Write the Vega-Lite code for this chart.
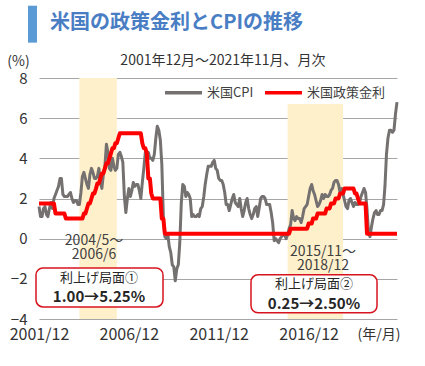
{
  "$schema": "https://vega.github.io/schema/vega-lite/v6.json",
  "width": 358,
  "height": 241,
  "autosize": "none",
  "padding": {"left": 39, "top": 78, "right": 28, "bottom": 47},
  "background": "white",
  "config": {
    "font": "Noto Sans CJK JP",
    "view": {"stroke": null},
    "text": {"font": "Noto Sans CJK JP"},
    "legend": {
      "orient": "none", "legendX": 124, "legendY": -6, "direction": "horizontal",
      "symbolType": "stroke", "symbolSize": 1369, "symbolStrokeWidth": 3.5,
      "labelFontSize": 13, "labelColor": "#404040", "labelOffset": 3,
      "columnPadding": 4, "padding": 0, "title": null
    }
  },
  "datasets": {
    "series": [
      {"d":"2001-12-01","cpi":1.6,"rate":1.75},
      {"d":"2002-01-01","cpi":1.1,"rate":1.75},{"d":"2002-02-01","cpi":1.1,"rate":1.75},{"d":"2002-03-01","cpi":1.5,"rate":1.75},{"d":"2002-04-01","cpi":1.6,"rate":1.75},{"d":"2002-05-01","cpi":1.2,"rate":1.75},{"d":"2002-06-01","cpi":1.1,"rate":1.75},{"d":"2002-07-01","cpi":1.5,"rate":1.75},{"d":"2002-08-01","cpi":1.8,"rate":1.75},{"d":"2002-09-01","cpi":1.5,"rate":1.75},{"d":"2002-10-01","cpi":2.0,"rate":1.75},{"d":"2002-11-01","cpi":2.2,"rate":1.25},{"d":"2002-12-01","cpi":2.4,"rate":1.25},
      {"d":"2003-01-01","cpi":2.6,"rate":1.25},{"d":"2003-02-01","cpi":3.0,"rate":1.25},{"d":"2003-03-01","cpi":3.0,"rate":1.25},{"d":"2003-04-01","cpi":2.2,"rate":1.25},{"d":"2003-05-01","cpi":2.1,"rate":1.25},{"d":"2003-06-01","cpi":2.1,"rate":1.0},{"d":"2003-07-01","cpi":2.1,"rate":1.0},{"d":"2003-08-01","cpi":2.2,"rate":1.0},{"d":"2003-09-01","cpi":2.3,"rate":1.0},{"d":"2003-10-01","cpi":2.0,"rate":1.0},{"d":"2003-11-01","cpi":1.8,"rate":1.0},{"d":"2003-12-01","cpi":1.9,"rate":1.0},
      {"d":"2004-01-01","cpi":1.9,"rate":1.0},{"d":"2004-02-01","cpi":1.7,"rate":1.0},{"d":"2004-03-01","cpi":1.7,"rate":1.0},{"d":"2004-04-01","cpi":2.3,"rate":1.0},{"d":"2004-05-01","cpi":3.1,"rate":1.0},{"d":"2004-06-01","cpi":3.3,"rate":1.25},{"d":"2004-07-01","cpi":3.0,"rate":1.25},{"d":"2004-08-01","cpi":2.7,"rate":1.5},{"d":"2004-09-01","cpi":2.5,"rate":1.75},{"d":"2004-10-01","cpi":3.2,"rate":1.75},{"d":"2004-11-01","cpi":3.5,"rate":2.0},{"d":"2004-12-01","cpi":3.3,"rate":2.25},
      {"d":"2005-01-01","cpi":3.0,"rate":2.25},{"d":"2005-02-01","cpi":3.0,"rate":2.5},{"d":"2005-03-01","cpi":3.1,"rate":2.75},{"d":"2005-04-01","cpi":3.5,"rate":2.75},{"d":"2005-05-01","cpi":2.8,"rate":3.0},{"d":"2005-06-01","cpi":2.5,"rate":3.25},{"d":"2005-07-01","cpi":3.2,"rate":3.25},{"d":"2005-08-01","cpi":3.6,"rate":3.5},{"d":"2005-09-01","cpi":4.7,"rate":3.75},{"d":"2005-10-01","cpi":4.3,"rate":3.75},{"d":"2005-11-01","cpi":3.5,"rate":4.0},{"d":"2005-12-01","cpi":3.4,"rate":4.25},
      {"d":"2006-01-01","cpi":4.0,"rate":4.5},{"d":"2006-02-01","cpi":3.6,"rate":4.5},{"d":"2006-03-01","cpi":3.4,"rate":4.75},{"d":"2006-04-01","cpi":3.5,"rate":4.75},{"d":"2006-05-01","cpi":4.2,"rate":5.0},{"d":"2006-06-01","cpi":4.3,"rate":5.25},{"d":"2006-07-01","cpi":4.1,"rate":5.25},{"d":"2006-08-01","cpi":3.8,"rate":5.25},{"d":"2006-09-01","cpi":2.1,"rate":5.25},{"d":"2006-10-01","cpi":1.3,"rate":5.25},{"d":"2006-11-01","cpi":2.0,"rate":5.25},{"d":"2006-12-01","cpi":2.5,"rate":5.25},
      {"d":"2007-01-01","cpi":2.1,"rate":5.25},{"d":"2007-02-01","cpi":2.4,"rate":5.25},{"d":"2007-03-01","cpi":2.8,"rate":5.25},{"d":"2007-04-01","cpi":2.6,"rate":5.25},{"d":"2007-05-01","cpi":2.7,"rate":5.25},{"d":"2007-06-01","cpi":2.7,"rate":5.25},{"d":"2007-07-01","cpi":2.4,"rate":5.25},{"d":"2007-08-01","cpi":2.0,"rate":5.25},{"d":"2007-09-01","cpi":2.8,"rate":4.75},{"d":"2007-10-01","cpi":3.5,"rate":4.5},{"d":"2007-11-01","cpi":4.3,"rate":4.5},{"d":"2007-12-01","cpi":4.1,"rate":4.25},
      {"d":"2008-01-01","cpi":4.3,"rate":3.0},{"d":"2008-02-01","cpi":4.0,"rate":3.0},{"d":"2008-03-01","cpi":4.0,"rate":2.25},{"d":"2008-04-01","cpi":3.9,"rate":2.0},{"d":"2008-05-01","cpi":4.2,"rate":2.0},{"d":"2008-06-01","cpi":5.0,"rate":2.0},{"d":"2008-07-01","cpi":5.6,"rate":2.0},{"d":"2008-08-01","cpi":5.4,"rate":2.0},{"d":"2008-09-01","cpi":4.9,"rate":2.0},{"d":"2008-10-01","cpi":3.7,"rate":1.0},{"d":"2008-11-01","cpi":1.1,"rate":1.0},{"d":"2008-12-01","cpi":0.1,"rate":0.25},
      {"d":"2009-01-01","cpi":0.0,"rate":0.25},{"d":"2009-02-01","cpi":0.2,"rate":0.25},{"d":"2009-03-01","cpi":-0.4,"rate":0.25},{"d":"2009-04-01","cpi":-0.7,"rate":0.25},{"d":"2009-05-01","cpi":-1.3,"rate":0.25},{"d":"2009-06-01","cpi":-1.4,"rate":0.25},{"d":"2009-07-01","cpi":-2.1,"rate":0.25},{"d":"2009-08-01","cpi":-1.5,"rate":0.25},{"d":"2009-09-01","cpi":-1.3,"rate":0.25},{"d":"2009-10-01","cpi":-0.2,"rate":0.25},{"d":"2009-11-01","cpi":1.8,"rate":0.25},{"d":"2009-12-01","cpi":2.7,"rate":0.25},
      {"d":"2010-01-01","cpi":2.6,"rate":0.25},{"d":"2010-02-01","cpi":2.1,"rate":0.25},{"d":"2010-03-01","cpi":2.3,"rate":0.25},{"d":"2010-04-01","cpi":2.2,"rate":0.25},{"d":"2010-05-01","cpi":2.0,"rate":0.25},{"d":"2010-06-01","cpi":1.1,"rate":0.25},{"d":"2010-07-01","cpi":1.2,"rate":0.25},{"d":"2010-08-01","cpi":1.1,"rate":0.25},{"d":"2010-09-01","cpi":1.1,"rate":0.25},{"d":"2010-10-01","cpi":1.2,"rate":0.25},{"d":"2010-11-01","cpi":1.1,"rate":0.25},{"d":"2010-12-01","cpi":1.5,"rate":0.25},
      {"d":"2011-01-01","cpi":1.6,"rate":0.25},{"d":"2011-02-01","cpi":2.1,"rate":0.25},{"d":"2011-03-01","cpi":2.7,"rate":0.25},{"d":"2011-04-01","cpi":3.2,"rate":0.25},{"d":"2011-05-01","cpi":3.6,"rate":0.25},{"d":"2011-06-01","cpi":3.6,"rate":0.25},{"d":"2011-07-01","cpi":3.6,"rate":0.25},{"d":"2011-08-01","cpi":3.8,"rate":0.25},{"d":"2011-09-01","cpi":3.9,"rate":0.25},{"d":"2011-10-01","cpi":3.5,"rate":0.25},{"d":"2011-11-01","cpi":3.4,"rate":0.25},{"d":"2011-12-01","cpi":3.0,"rate":0.25},
      {"d":"2012-01-01","cpi":2.9,"rate":0.25},{"d":"2012-02-01","cpi":2.9,"rate":0.25},{"d":"2012-03-01","cpi":2.7,"rate":0.25},{"d":"2012-04-01","cpi":2.3,"rate":0.25},{"d":"2012-05-01","cpi":1.7,"rate":0.25},{"d":"2012-06-01","cpi":1.7,"rate":0.25},{"d":"2012-07-01","cpi":1.4,"rate":0.25},{"d":"2012-08-01","cpi":1.7,"rate":0.25},{"d":"2012-09-01","cpi":2.0,"rate":0.25},{"d":"2012-10-01","cpi":2.2,"rate":0.25},{"d":"2012-11-01","cpi":1.8,"rate":0.25},{"d":"2012-12-01","cpi":1.7,"rate":0.25},
      {"d":"2013-01-01","cpi":1.6,"rate":0.25},{"d":"2013-02-01","cpi":2.0,"rate":0.25},{"d":"2013-03-01","cpi":1.5,"rate":0.25},{"d":"2013-04-01","cpi":1.1,"rate":0.25},{"d":"2013-05-01","cpi":1.4,"rate":0.25},{"d":"2013-06-01","cpi":1.8,"rate":0.25},{"d":"2013-07-01","cpi":2.0,"rate":0.25},{"d":"2013-08-01","cpi":1.5,"rate":0.25},{"d":"2013-09-01","cpi":1.2,"rate":0.25},{"d":"2013-10-01","cpi":1.0,"rate":0.25},{"d":"2013-11-01","cpi":1.2,"rate":0.25},{"d":"2013-12-01","cpi":1.5,"rate":0.25},
      {"d":"2014-01-01","cpi":1.6,"rate":0.25},{"d":"2014-02-01","cpi":1.1,"rate":0.25},{"d":"2014-03-01","cpi":1.5,"rate":0.25},{"d":"2014-04-01","cpi":2.0,"rate":0.25},{"d":"2014-05-01","cpi":2.1,"rate":0.25},{"d":"2014-06-01","cpi":2.1,"rate":0.25},{"d":"2014-07-01","cpi":2.0,"rate":0.25},{"d":"2014-08-01","cpi":1.7,"rate":0.25},{"d":"2014-09-01","cpi":1.7,"rate":0.25},{"d":"2014-10-01","cpi":1.7,"rate":0.25},{"d":"2014-11-01","cpi":1.3,"rate":0.25},{"d":"2014-12-01","cpi":0.8,"rate":0.25},
      {"d":"2015-01-01","cpi":-0.1,"rate":0.25},{"d":"2015-02-01","cpi":0.0,"rate":0.25},{"d":"2015-03-01","cpi":-0.1,"rate":0.25},{"d":"2015-04-01","cpi":-0.2,"rate":0.25},{"d":"2015-05-01","cpi":0.0,"rate":0.25},{"d":"2015-06-01","cpi":0.1,"rate":0.25},{"d":"2015-07-01","cpi":0.2,"rate":0.25},{"d":"2015-08-01","cpi":0.2,"rate":0.25},{"d":"2015-09-01","cpi":0.0,"rate":0.25},{"d":"2015-10-01","cpi":0.2,"rate":0.25},{"d":"2015-11-01","cpi":0.5,"rate":0.25},{"d":"2015-12-01","cpi":0.7,"rate":0.5},
      {"d":"2016-01-01","cpi":1.4,"rate":0.5},{"d":"2016-02-01","cpi":1.0,"rate":0.5},{"d":"2016-03-01","cpi":0.9,"rate":0.5},{"d":"2016-04-01","cpi":1.1,"rate":0.5},{"d":"2016-05-01","cpi":1.0,"rate":0.5},{"d":"2016-06-01","cpi":1.0,"rate":0.5},{"d":"2016-07-01","cpi":0.8,"rate":0.5},{"d":"2016-08-01","cpi":1.1,"rate":0.5},{"d":"2016-09-01","cpi":1.5,"rate":0.5},{"d":"2016-10-01","cpi":1.6,"rate":0.5},{"d":"2016-11-01","cpi":1.7,"rate":0.5},{"d":"2016-12-01","cpi":2.1,"rate":0.75},
      {"d":"2017-01-01","cpi":2.5,"rate":0.75},{"d":"2017-02-01","cpi":2.7,"rate":0.75},{"d":"2017-03-01","cpi":2.4,"rate":1.0},{"d":"2017-04-01","cpi":2.2,"rate":1.0},{"d":"2017-05-01","cpi":1.9,"rate":1.0},{"d":"2017-06-01","cpi":1.6,"rate":1.25},{"d":"2017-07-01","cpi":1.7,"rate":1.25},{"d":"2017-08-01","cpi":1.9,"rate":1.25},{"d":"2017-09-01","cpi":2.2,"rate":1.25},{"d":"2017-10-01","cpi":2.0,"rate":1.25},{"d":"2017-11-01","cpi":2.2,"rate":1.25},{"d":"2017-12-01","cpi":2.1,"rate":1.5},
      {"d":"2018-01-01","cpi":2.1,"rate":1.5},{"d":"2018-02-01","cpi":2.2,"rate":1.5},{"d":"2018-03-01","cpi":2.4,"rate":1.75},{"d":"2018-04-01","cpi":2.5,"rate":1.75},{"d":"2018-05-01","cpi":2.8,"rate":1.75},{"d":"2018-06-01","cpi":2.9,"rate":2.0},{"d":"2018-07-01","cpi":2.9,"rate":2.0},{"d":"2018-08-01","cpi":2.7,"rate":2.0},{"d":"2018-09-01","cpi":2.3,"rate":2.25},{"d":"2018-10-01","cpi":2.5,"rate":2.25},{"d":"2018-11-01","cpi":2.2,"rate":2.25},{"d":"2018-12-01","cpi":1.9,"rate":2.5},
      {"d":"2019-01-01","cpi":1.6,"rate":2.5},{"d":"2019-02-01","cpi":1.5,"rate":2.5},{"d":"2019-03-01","cpi":1.9,"rate":2.5},{"d":"2019-04-01","cpi":2.0,"rate":2.5},{"d":"2019-05-01","cpi":1.8,"rate":2.5},{"d":"2019-06-01","cpi":1.6,"rate":2.5},{"d":"2019-07-01","cpi":1.8,"rate":2.25},{"d":"2019-08-01","cpi":1.7,"rate":2.25},{"d":"2019-09-01","cpi":1.7,"rate":2.0},{"d":"2019-10-01","cpi":1.8,"rate":1.75},{"d":"2019-11-01","cpi":2.1,"rate":1.75},{"d":"2019-12-01","cpi":2.3,"rate":1.75},
      {"d":"2020-01-01","cpi":2.5,"rate":1.75},{"d":"2020-02-01","cpi":2.3,"rate":1.75},{"d":"2020-03-01","cpi":1.5,"rate":0.25},{"d":"2020-04-01","cpi":0.3,"rate":0.25},{"d":"2020-05-01","cpi":0.1,"rate":0.25},{"d":"2020-06-01","cpi":0.6,"rate":0.25},{"d":"2020-07-01","cpi":1.0,"rate":0.25},{"d":"2020-08-01","cpi":1.3,"rate":0.25},{"d":"2020-09-01","cpi":1.4,"rate":0.25},{"d":"2020-10-01","cpi":1.2,"rate":0.25},{"d":"2020-11-01","cpi":1.2,"rate":0.25},{"d":"2020-12-01","cpi":1.4,"rate":0.25},
      {"d":"2021-01-01","cpi":1.4,"rate":0.25},{"d":"2021-02-01","cpi":1.7,"rate":0.25},{"d":"2021-03-01","cpi":2.6,"rate":0.25},{"d":"2021-04-01","cpi":4.2,"rate":0.25},{"d":"2021-05-01","cpi":5.0,"rate":0.25},{"d":"2021-06-01","cpi":5.4,"rate":0.25},{"d":"2021-07-01","cpi":5.4,"rate":0.25},{"d":"2021-08-01","cpi":5.3,"rate":0.25},{"d":"2021-09-01","cpi":5.4,"rate":0.25},{"d":"2021-10-01","cpi":6.2,"rate":0.25},{"d":"2021-11-01","cpi":6.8,"rate":0.25}
    ],
    "bands": [
      {"start": "2004-03-01", "end": "2006-04-01", "top": 8, "bottom": -4},
      {"start": "2015-10-01", "end": "2018-11-01", "top": 6.7, "bottom": -4}
    ],
    "periods": [
      {"x": "2004-12-23", "y": -0.13, "label": ["2004/5～", "2006/6"]},
      {"x": "2017-09-19", "y": -0.66, "label": ["2015/11～", "2018/12"]}
    ],
    "boxes": [
      {"x": "2001-10-01", "x2": "2008-10-25", "y": -1.46, "y2": -3.4},
      {"x": "2013-09-17", "x2": "2020-09-21", "y": -1.8, "y2": -3.69}
    ],
    "boxlabels": [
      {"x": "2005-04-03", "y": -1.94, "label": "利上げ局面①", "kind": "head"},
      {"x": "2005-04-03", "y": -2.9, "label": "1.00→5.25%", "kind": "value"},
      {"x": "2017-03-20", "y": -2.25, "label": "利上げ局面②", "kind": "head"},
      {"x": "2017-03-20", "y": -3.25, "label": "0.25→2.50%", "kind": "value"}
    ]
  },
  "layer": [
    {
      "data": {"name": "bands"},
      "mark": {"type": "rect", "fill": "#fff0cc"},
      "encoding": {
        "x": {"field": "start", "type": "temporal",
          "scale": {"type": "utc", "domain": [{"year": 2001, "month": 12, "date": 1, "utc": true}, {"year": 2021, "month": 11, "date": 1, "utc": true}], "nice": false},
          "axis": {
            "values": [{"year": 2001, "month": 12, "date": 1, "utc": true}, {"year": 2006, "month": 12, "date": 1, "utc": true}, {"year": 2011, "month": 12, "date": 1, "utc": true}, {"year": 2016, "month": 12, "date": 1, "utc": true}],
            "format": "%Y/%m", "grid": false, "domain": false, "ticks": false,
            "labelFontSize": 16, "labelColor": "#333333", "labelPadding": 7, "labelFlush": false, "labelOverlap": false, "labelBound": false,
            "title": "(年/月)", "titleFontSize": 14, "titleFontWeight": "normal", "titleColor": "#333333",
            "titleAnchor": null, "titleAlign": "right", "titleBaseline": "middle", "titleX": 361, "titleY": 15
          }},
        "x2": {"field": "end"},
        "y": {"field": "top", "type": "quantitative",
          "scale": {"domain": [-4, 8], "nice": false, "zero": false},
          "axis": {
            "values": [-4, -2, 0, 2, 4, 6, 8], "grid": true, "gridColor": "#a6a6a6", "gridWidth": 1,
            "domain": false, "ticks": false, "labelFontSize": 15, "labelColor": "#333333", "labelPadding": 12,
            "title": "(%)", "titleAngle": 0, "titleFontSize": 14, "titleFontWeight": "normal", "titleColor": "#333333",
            "titleAnchor": null, "titleAlign": "center", "titleBaseline": "middle", "titleX": -21, "titleY": -17
          }},
        "y2": {"field": "bottom"}
      }
    },
    {
      "data": {"name": "series"},
      "mark": {"type": "line", "strokeWidth": 3, "strokeJoin": "round"},
      "encoding": {
        "x": {"field": "d", "type": "temporal"},
        "y": {"field": "cpi", "type": "quantitative"},
        "color": {"datum": "米国CPI", "type": "nominal",
          "scale": {"domain": ["米国CPI", "米国政策金利"], "range": ["#767171", "#ff0000"]}}
      }
    },
    {
      "data": {"name": "series"},
      "mark": {"type": "line", "strokeWidth": 4, "strokeJoin": "round"},
      "encoding": {
        "x": {"field": "d", "type": "temporal"},
        "y": {"field": "rate", "type": "quantitative"},
        "color": {"datum": "米国政策金利", "type": "nominal"}
      }
    },
    {
      "data": {"name": "periods"},
      "mark": {"type": "text", "fontSize": 14, "lineHeight": 14, "color": "#404040", "baseline": "middle", "align": "center"},
      "encoding": {
        "x": {"field": "x", "type": "temporal"},
        "y": {"field": "y", "type": "quantitative"},
        "text": {"field": "label"}
      }
    },
    {
      "data": {"name": "boxes"},
      "mark": {"type": "rect", "fill": "white", "stroke": "#d7141e", "strokeWidth": 1.5, "cornerRadius": 7},
      "encoding": {
        "x": {"field": "x", "type": "temporal"},
        "x2": {"field": "x2"},
        "y": {"field": "y", "type": "quantitative"},
        "y2": {"field": "y2"}
      }
    },
    {
      "data": {"name": "boxlabels"},
      "transform": [{"filter": "datum.kind === 'head'"}],
      "mark": {"type": "text", "fontSize": 13, "color": "#262626", "baseline": "middle", "align": "center"},
      "encoding": {
        "x": {"field": "x", "type": "temporal"},
        "y": {"field": "y", "type": "quantitative"},
        "text": {"field": "label"}
      }
    },
    {
      "data": {"name": "boxlabels"},
      "transform": [{"filter": "datum.kind === 'value'"}],
      "mark": {"type": "text", "fontSize": 15, "fontWeight": "bold", "color": "#262626", "baseline": "middle", "align": "center"},
      "encoding": {
        "x": {"field": "x", "type": "temporal"},
        "y": {"field": "y", "type": "quantitative"},
        "text": {"field": "label"}
      }
    },
    {
      "data": {"values": [{}]},
      "mark": {"type": "text", "fontSize": 14, "color": "#333333", "baseline": "middle", "align": "center"},
      "encoding": {
        "x": {"datum": {"year": 2012, "month": 2, "date": 26, "utc": true}, "type": "temporal"},
        "y": {"datum": 8.86, "type": "quantitative"},
        "text": {"value": "2001年12月～2021年11月、月次"}
      }
    },
    {
      "data": {"values": [{}]},
      "mark": {"type": "text", "fontSize": 20, "fontWeight": "bold", "color": "#4a7ec4", "baseline": "middle", "align": "left"},
      "encoding": {
        "x": {"datum": {"year": 2002, "month": 7, "date": 13, "utc": true}, "type": "temporal"},
        "y": {"datum": 10.74, "type": "quantitative"},
        "text": {"value": "米国の政策金利とCPIの推移"}
      }
    },
    {
      "data": {"values": [{}]},
      "mark": {"type": "rect", "fill": "#5b9bd5"},
      "encoding": {
        "x": {"datum": {"year": 2001, "month": 4, "date": 21, "utc": true}, "type": "temporal"},
        "x2": {"datum": {"year": 2001, "month": 10, "date": 21, "utc": true}},
        "y": {"datum": 11.6, "type": "quantitative"},
        "y2": {"datum": 9.76}
      }
    }
  ]
}
